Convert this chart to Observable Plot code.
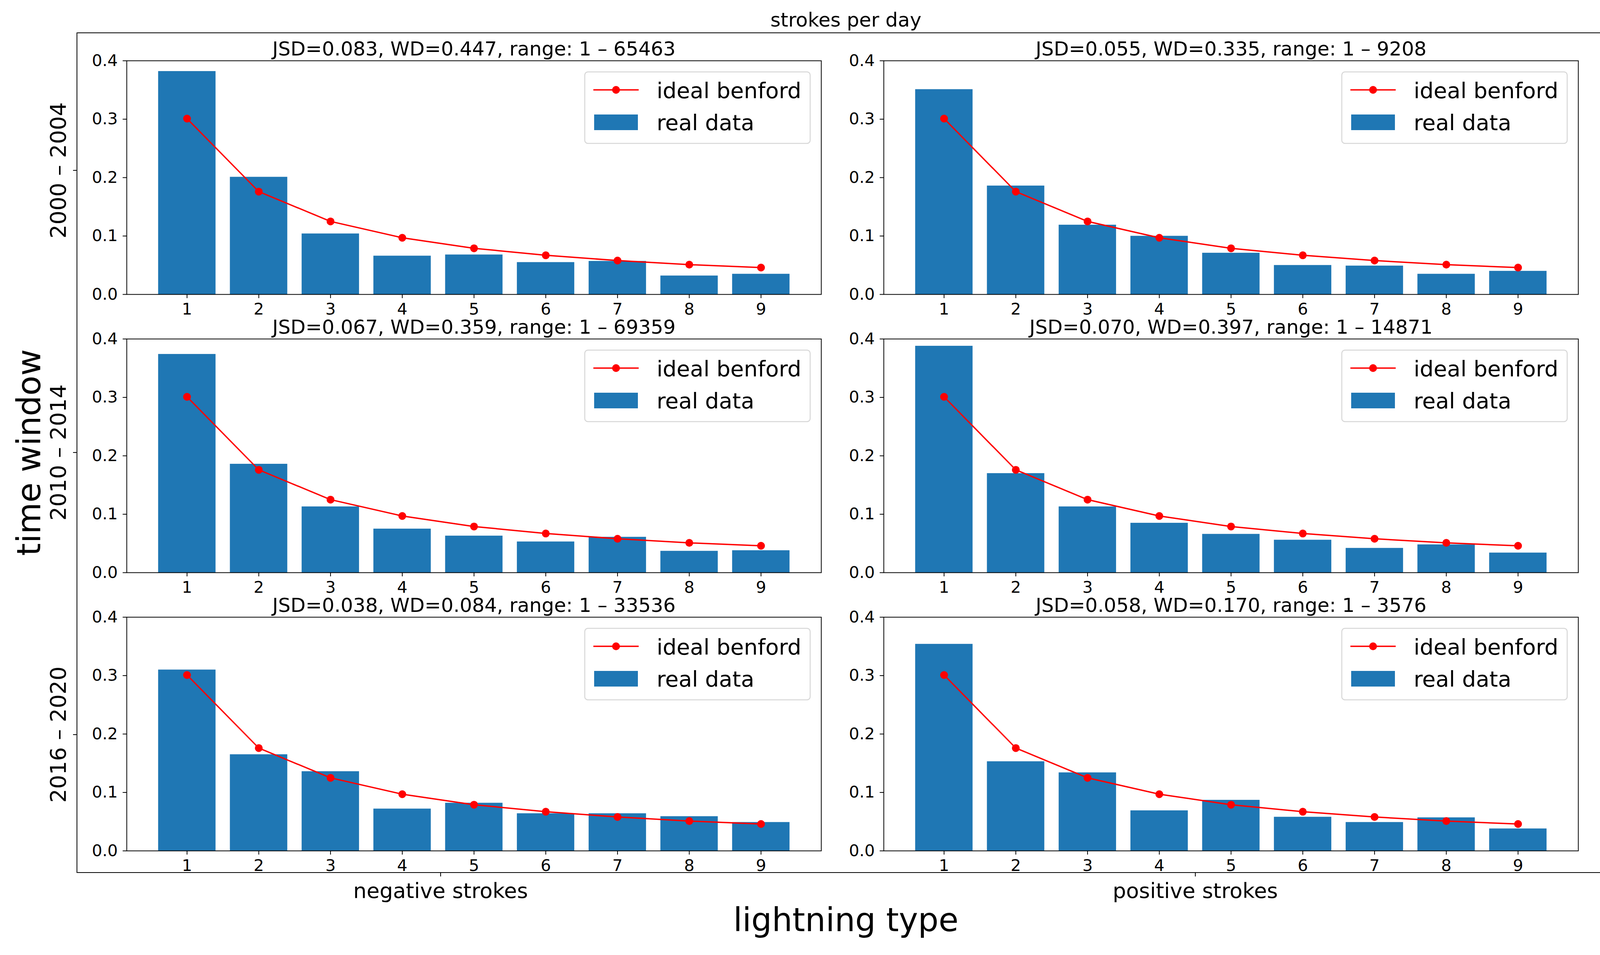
<!DOCTYPE html>
<html><head><meta charset="utf-8">
<script src="https://cdn.jsdelivr.net/npm/d3@7"></script>
<script src="https://cdn.jsdelivr.net/npm/@observablehq/plot@0.6"></script>
<style>
html,body{margin:0;padding:0;background:#fff;}
#fig{position:relative;width:4196px;height:2444px;background:#fff;font-family:"DejaVu Sans",sans-serif;overflow:hidden;}
#fig svg{position:absolute;}
</style></head><body><div id="fig"></div>
<script>
// ---- data ----
const digits = [1, 2, 3, 4, 5, 6, 7, 8, 9];
const benford = [0.301, 0.176, 0.125, 0.097, 0.079, 0.067, 0.058, 0.051, 0.046];
const timeWindows = ["2000 – 2004", "2010 – 2014", "2016 – 2020"];
const lightningTypes = ["negative strokes", "positive strokes"];
const negative2000 = [0.382, 0.201, 0.104, 0.066, 0.068, 0.055, 0.057, 0.032, 0.035];
const positive2000 = [0.351, 0.186, 0.119, 0.100, 0.071, 0.050, 0.049, 0.035, 0.040];
const negative2010 = [0.374, 0.186, 0.113, 0.075, 0.063, 0.053, 0.061, 0.037, 0.038];
const positive2010 = [0.388, 0.170, 0.113, 0.085, 0.066, 0.056, 0.042, 0.048, 0.034];
const negative2016 = [0.310, 0.165, 0.136, 0.072, 0.082, 0.064, 0.064, 0.059, 0.049];
const positive2016 = [0.354, 0.153, 0.134, 0.069, 0.087, 0.058, 0.049, 0.057, 0.038];
const panelTitles = [
  ["JSD=0.083, WD=0.447, range: 1 – 65463", "JSD=0.055, WD=0.335, range: 1 – 9208"],
  ["JSD=0.067, WD=0.359, range: 1 – 69359", "JSD=0.070, WD=0.397, range: 1 – 14871"],
  ["JSD=0.038, WD=0.084, range: 1 – 33536", "JSD=0.058, WD=0.170, range: 1 – 3576"]
];
const legendLabels = ["ideal benford", "real data"];
const yTicks = [0, 0.1, 0.2, 0.3, 0.4];
const figTitle = "strokes per day";
const xTitle = "lightning type";
const yTitle = "time window";

const seriesGrid = [[negative2000, positive2000], [negative2010, positive2010], [negative2016, positive2016]];

// ---- layout ----
const BAR = "#1f77b4", LINE = "#ff0000", FONT = '"DejaVu Sans", sans-serif';
const W = 1778, H = 598;
const colLeft = [324, 2262], rowTop = [155, 867, 1579];
const mL = 130, mR = 20, mT = 80, mB = 80;
const frame = {left: 197, top: 84, right: 4134, bottom: 2233};
const outerXTicks = [1128, 3060], outerYTicks = [436, 1158, 1880];

const fig = document.getElementById("fig");

seriesGrid.forEach((row, r) => row.forEach((series, c) => {
  const bars = digits.map((d, i) => ({digit: d, value: series[i]}));
  const ideal = digits.map((d, i) => ({digit: d, p: benford[i]}));
  const svg = Plot.plot({
    width: mL + W + mR, height: mT + H + mB,
    marginLeft: mL, marginRight: mR, marginTop: mT, marginBottom: mB,
    x: {domain: [0.16, 9.84]},
    y: {domain: [0, 0.4]},
    style: {fontFamily: FONT, fontSize: "41.7px", color: "black", background: "transparent", overflow: "visible"},
    marks: [
      Plot.rectY(bars, {x1: d => d.digit - 0.4, x2: d => d.digit + 0.4, y1: 0, y2: "value", fill: BAR}),
      Plot.line(ideal, {x: "digit", y: "p", stroke: LINE, strokeWidth: 3.5}),
      Plot.dot(ideal, {x: "digit", y: "p", r: 10, fill: LINE}),
      Plot.frame({stroke: "black", strokeWidth: 2}),
      Plot.axisX(digits, {tickSize: 10, tickPadding: 12, strokeWidth: 2, fontSize: 41.7, tickFormat: d => String(d), label: null}),
      Plot.axisY(yTicks, {tickSize: 10, tickPadding: 13, strokeWidth: 2, fontSize: 41.7, tickFormat: d3.format(".1f"), label: null}),
      Plot.text([panelTitles[r][c]], {frameAnchor: "top", dy: -14, lineAnchor: "bottom", fontSize: 50, fill: "black"})
    ]
  });
  svg.style.left = (colLeft[c] - mL) + "px";
  svg.style.top = (rowTop[r] - mT) + "px";
  fig.appendChild(svg);
}));

// ---- overlay: outer frame, labels, legends ----
const ov = d3.select(fig).append("svg")
  .attr("width", 4196).attr("height", 2444)
  .style("left", "0px").style("top", "0px").style("pointer-events", "none")
  .attr("font-family", FONT);

ov.append("rect").attr("x", frame.left).attr("y", frame.top)
  .attr("width", frame.right - frame.left).attr("height", frame.bottom - frame.top)
  .attr("fill", "none").attr("stroke", "black").attr("stroke-width", 2);

outerXTicks.forEach((x, i) => {
  ov.append("line").attr("x1", x).attr("x2", x).attr("y1", frame.bottom).attr("y2", frame.bottom + 10)
    .attr("stroke", "black").attr("stroke-width", 2);
  ov.append("text").attr("x", x).attr("y", 2298).attr("text-anchor", "middle")
    .attr("font-size", 54).text(lightningTypes[i]);
});
outerYTicks.forEach((y, i) => {
  ov.append("line").attr("x1", frame.left - 10).attr("x2", frame.left).attr("y1", y).attr("y2", y)
    .attr("stroke", "black").attr("stroke-width", 2);
  ov.append("text").attr("transform", `translate(168,${y}) rotate(-90)`).attr("text-anchor", "middle")
    .attr("font-size", 56).text(timeWindows[i]);
});

ov.append("text").attr("x", (frame.left + frame.right) / 2).attr("y", 68).attr("text-anchor", "middle")
  .attr("font-size", 50).text(figTitle);
ov.append("text").attr("x", (frame.left + frame.right) / 2).attr("y", 2383).attr("text-anchor", "middle")
  .attr("font-size", 83).text(xTitle);
ov.append("text").attr("transform", `translate(103,${outerYTicks[1]}) rotate(-90)`).attr("text-anchor", "middle")
  .attr("font-size", 83).text(yTitle);

rowTop.forEach(top => colLeft.forEach(left => {
  const bx = left + W - 28 - 577, by = top + 29;
  const g = ov.append("g").attr("transform", `translate(${bx},${by})`);
  g.append("rect").attr("width", 577).attr("height", 183).attr("rx", 8)
    .attr("fill", "white").attr("fill-opacity", 0.8).attr("stroke", "#d6d6d6").attr("stroke-width", 2.5);
  g.append("line").attr("x1", 22).attr("x2", 138).attr("y1", 46).attr("y2", 46)
    .attr("stroke", LINE).attr("stroke-width", 3.5);
  g.append("circle").attr("cx", 80).attr("cy", 46).attr("r", 10).attr("fill", LINE);
  g.append("rect").attr("x", 24).attr("y", 109).attr("width", 112).attr("height", 40).attr("fill", BAR);
  g.append("text").attr("x", 184).attr("y", 67).attr("font-size", 56).text(legendLabels[0]);
  g.append("text").attr("x", 184).attr("y", 149).attr("font-size", 56).text(legendLabels[1]);
}));
</script></body></html>
